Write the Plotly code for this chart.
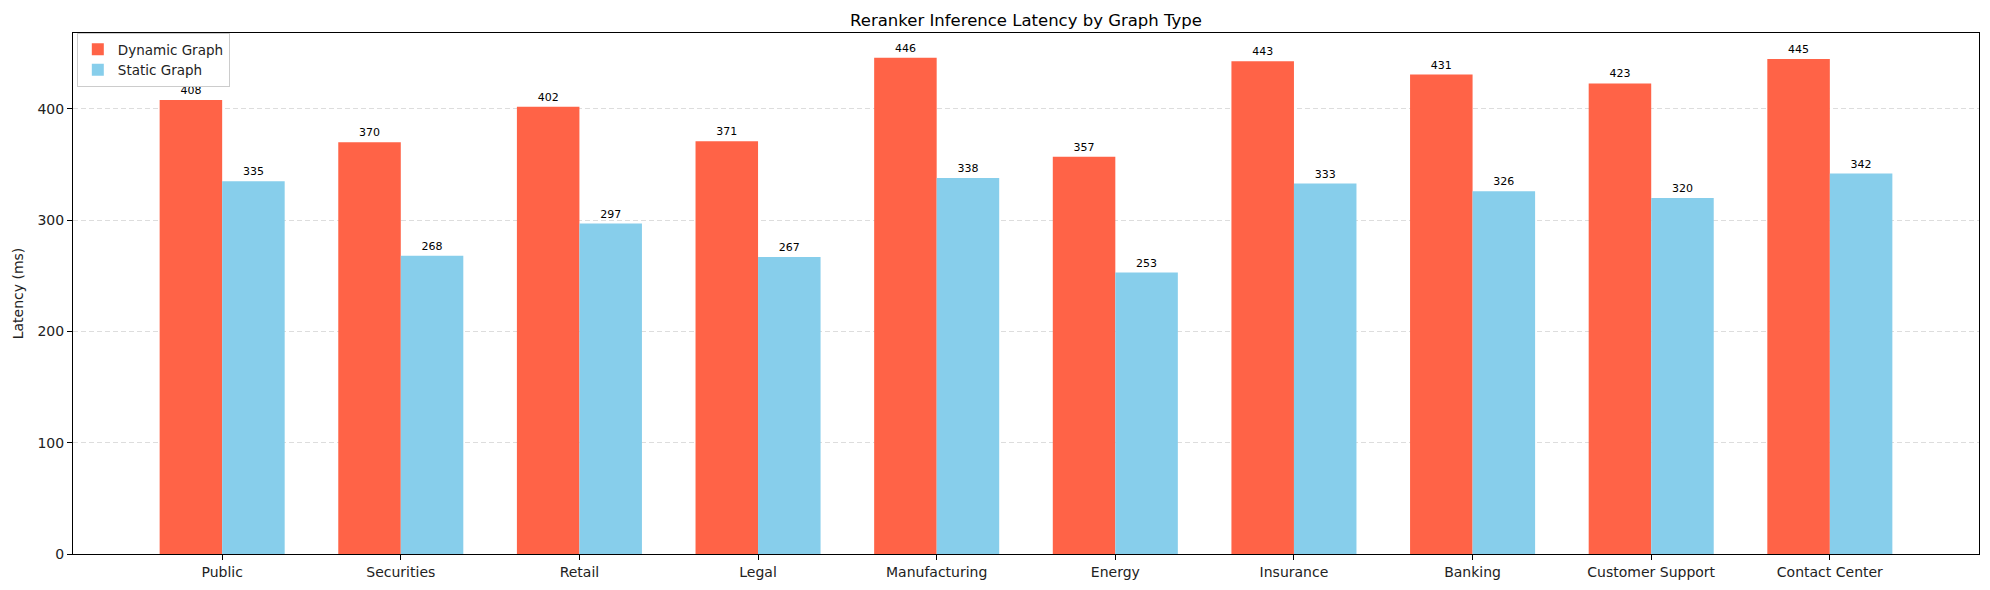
import plotly.graph_objects as go

categories = ["Public", "Securities", "Retail", "Legal", "Manufacturing", "Energy",
              "Insurance", "Banking", "Customer Support", "Contact Center"]
dynamic_graph = [408, 370, 402, 371, 446, 357, 443, 431, 423, 445]
static_graph = [335, 268, 297, 267, 338, 253, 333, 326, 320, 342]
y_ticks = [0, 100, 200, 300, 400]

FONT = "DejaVu Sans"
xs = list(range(len(categories)))

fig = go.Figure()
fig.add_trace(go.Bar(
    x=xs, y=dynamic_graph, name="Dynamic Graph", marker_color="#FF6347",
    marker_line_width=0, text=[str(v) for v in dynamic_graph],
    textposition="outside", textfont=dict(family=FONT, size=11, color="black"),
    cliponaxis=False))
fig.add_trace(go.Bar(
    x=xs, y=static_graph, name="Static Graph", marker_color="#87CEEB",
    marker_line_width=0, text=[str(v) for v in static_graph],
    textposition="outside", textfont=dict(family=FONT, size=11, color="black"),
    cliponaxis=False))

ymax = max(dynamic_graph + static_graph) * 1.05

fig.update_layout(
    width=1982, height=582,
    margin=dict(l=58, r=10, t=25, b=26),
    paper_bgcolor="white", plot_bgcolor="white",
    font=dict(family=FONT, size=14, color="black"),
    barmode="group", bargap=0.3, bargroupgap=0,
    title=dict(text="Reranker Inference Latency by Graph Type",
               x=0.5, xref="paper", y=1, yref="paper", yanchor="bottom",
               pad=dict(b=7), font=dict(family=FONT, size=16.5, color="black")),
    xaxis=dict(range=[-0.835, len(categories) - 1 + 0.835],
               tickmode="array", tickvals=xs, ticktext=categories,
               showline=True, linecolor="black", linewidth=1, mirror=True,
               ticks="outside", ticklen=5, tickcolor="black",
               showgrid=False, zeroline=False,
               tickfont=dict(family=FONT, size=14, color="#222")),
    yaxis=dict(range=[0, ymax], tickmode="array", tickvals=y_ticks,
               showline=True, linecolor="black", linewidth=1, mirror=True,
               ticks="outside", ticklen=5, tickcolor="black",
               showgrid=True, gridcolor="#dddddd", griddash="5px,3px",
               gridwidth=1, zeroline=False,
               title=dict(text="Latency (ms)", standoff=10,
                          font=dict(family=FONT, size=14, color="#222")),
               tickfont=dict(family=FONT, size=14, color="#222")),
    legend=dict(x=0.002, y=1.0, xanchor="left", yanchor="top",
                bgcolor="rgba(255,255,255,0.8)", bordercolor="#cccccc",
                borderwidth=1, font=dict(family=FONT, size=13.5, color="#222"),
                itemsizing="constant", tracegroupgap=0),
    showlegend=True,
)

fig.write_html("out.html")
